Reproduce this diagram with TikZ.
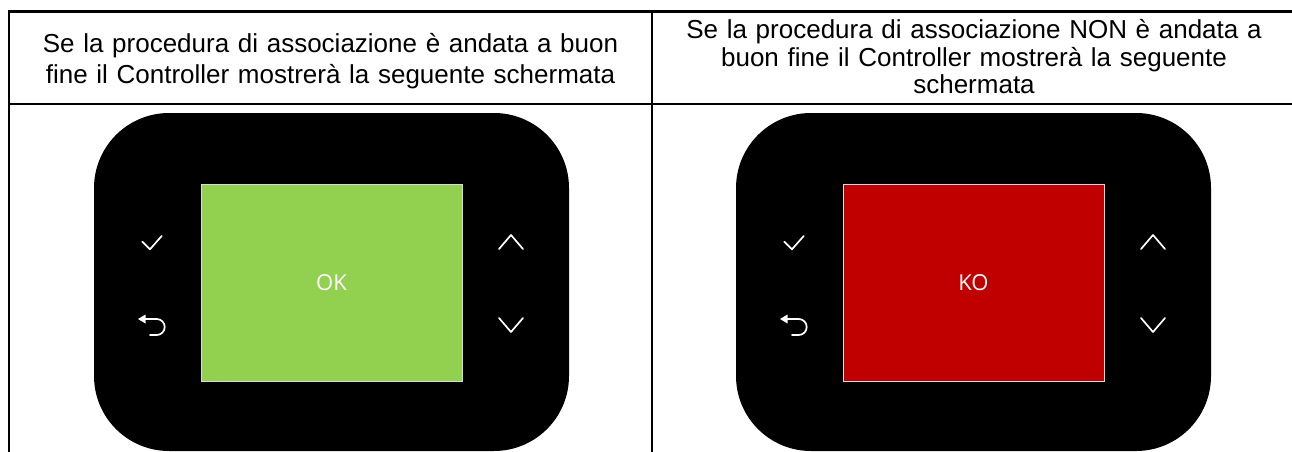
\documentclass[tikz,border=0pt]{standalone}
\usepackage{fontspec}
\setmainfont{Liberation Sans}
\newfontfamily\screenfont{Open Sans}
\definecolor{okgreen}{HTML}{92D050}
\definecolor{kored}{HTML}{C00000}
\definecolor{screenedge}{HTML}{D9D9D9}
\begin{document}
\begin{tikzpicture}[x=1pt,y=-1pt,
  grid/.style={line width=2.5pt},
  device/.style={fill=black, rounded corners=75pt, minimum width=475pt, minimum height=338pt, inner sep=0pt},
  screen/.style={draw=screenedge, line width=1pt, minimum width=261pt, minimum height=197pt, inner sep=0pt,
     font=\screenfont\fontsize{22}{26}\selectfont, text=white},
  icon/.style={draw=white, line width=1.7pt, line cap=round, line join=round},
  header/.style={align=center, text width=630pt, inner sep=0pt},
  ]
\useasboundingbox (0,0) rectangle (1292,452);
% table grid
\coordinate (tl) at (9,11.5);
\coordinate (tr) at (1292,11.5);
\coordinate (bl) at (9,452);
\coordinate (ml) at (9,104);
\coordinate (mr) at (1292,104);
\coordinate (mt) at (652,11.5);
\coordinate (mb) at (652,452);
\draw[grid] (bl) -- (tl) -- (tr);
\draw[grid] (ml) -- (mr);
\draw[grid] (mt) -- (mb);
% headers
\node[header, font=\fontsize{26}{30.5}\selectfont] (h1) at (330.5,61) {Se la procedura di associazione è andata a buon\\fine il Controller mostrerà la seguente schermata};
\node[header, font=\fontsize{26}{27.5}\selectfont] (h2) at (974,57) {Se la procedura di associazione NON è andata a\\buon fine il Controller mostrerà la seguente\\schermata};
% devices
\foreach \dx/\col/\txt/\nm in {0/okgreen/OK/1, 642/kored/KO/2}{
  \begin{scope}[xshift=\dx pt]
    \node[device] (dev\nm) at (331.5,282) {};
    \node[screen, fill=\col] (scr\nm) at (331.5,282.5) {\txt};
    % check
    \draw[icon] (142.3,241.7) -- (150,249.3) -- (161.7,236);
    % back
    \draw[icon] (150,335) -- (156.7,335) arc[start angle=90, end angle=-90, radius=8] -- (143,319);
    \fill[white] (138,319) -- (145.5,314.5) -- (145.5,323.5) -- cycle;
    % up / down
    \draw[icon] (499,249) -- (511,235) -- (523,249);
    \draw[icon] (499,318) -- (511,332) -- (523,318);
  \end{scope}
}
\end{tikzpicture}
\end{document}
